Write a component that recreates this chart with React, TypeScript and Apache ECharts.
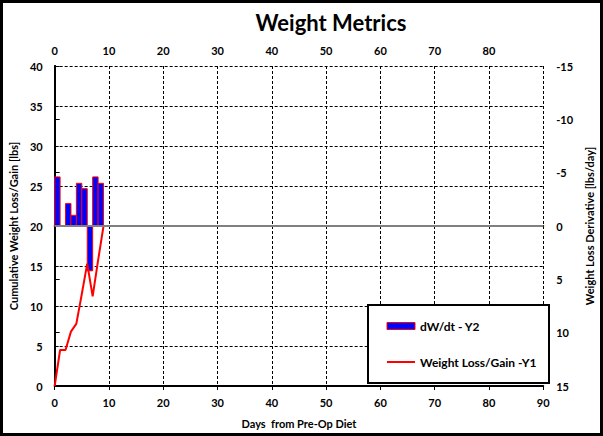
import React, { useEffect, useRef } from "react";
import * as echarts from "echarts";

const titleText = "Weight Metrics";
const xName = "Days  from Pre-Op Diet";
const y1Name = "Cumulative Weight Loss/Gain [lbs]";
const y2Name = "Weight Loss Derivative [lbs/day]";
const barName = "dW/dt - Y2";
const lineName = "Weight Loss/Gain -Y1";

const lineDays = [0, 1, 2, 3, 4, 5, 6, 7, 8, 9];
const lineValues = [0, 4.5, 4.5, 6.8, 7.8, 11.5, 15.3, 11.2, 15.7, 20.0];

const barDays = [0, 2, 3, 4, 5, 6, 7, 8];
const barValues = [-4.6, -2.1, -1.0, -4.0, -3.5, 4.2, -4.6, -4.0];

const y2Zero = 0;

export default function App() {
  const ref = useRef<HTMLDivElement>(null);
  useEffect(() => {
    if (!ref.current) return;
    const chart = echarts.init(ref.current, null, { renderer: "svg" });
    const font = "Lato";
    const lbl = { color: "#000", fontFamily: font, fontWeight: "bold" as const, fontSize: 11 };
    const nameStyle = { color: "#000", fontFamily: font, fontWeight: "bold" as const, fontSize: 11 };
    const axisLine = { show: true, lineStyle: { color: "#000", width: 2 } };
    const split = { show: true, lineStyle: { color: "#000", width: 1, type: [3, 2] as any } };

    chart.setOption({
      animation: false,
      backgroundColor: "#fff",
      textStyle: { fontFamily: font },
      title: {
        text: titleText,
        left: 326,
        top: 6,
        textAlign: "center",
        textStyle: { fontFamily: font, fontWeight: "bold", fontSize: 22, color: "#000" },
      },
      graphic: [
        {
          type: "rect",
          shape: { x: 1.5, y: 1.5, width: 600, height: 433 },
          style: { fill: "none", stroke: "#000", lineWidth: 3 },
          z: 0,
          silent: true,
        },
        {
          type: "rect",
          shape: { x: 368, y: 305, width: 181, height: 78 },
          style: { fill: "#fff", stroke: "#000", lineWidth: 2 },
          z: 5,
          silent: true,
        },
      ],
      legend: {
        orient: "vertical",
        left: 381,
        top: 315,
        itemGap: 24,
        itemWidth: 28,
        itemHeight: 7,
        z: 10,
        textStyle: { ...lbl, fontSize: 12 },
        data: [
          {
            name: barName,
            icon: "rect",
            itemStyle: { color: "#0000ff", borderColor: "#ff0000", borderWidth: 1 },
          },
          { name: lineName, itemStyle: { opacity: 0 } },
        ],
      },
      grid: { left: 53, right: 53, top: 66, bottom: 50, containLabel: false },
      xAxis: [
        {
          type: "value",
          position: "bottom",
          min: 0,
          max: 90,
          interval: 10,
          axisLine,
          axisTick: { show: true, inside: false, length: 4, lineStyle: { color: "#000", width: 1 } },
          axisLabel: { ...lbl, margin: 11 },
          splitLine: split,
          name: xName,
          nameLocation: "middle",
          nameGap: 32,
          nameTextStyle: nameStyle,
        },
        {
          type: "value",
          position: "top",
          min: 0,
          max: 90,
          interval: 10,
          axisLine,
          axisTick: { show: false },
          axisLabel: { ...lbl, margin: 10, showMaxLabel: false },
          splitLine: { show: false },
        },
      ],
      yAxis: [
        {
          type: "value",
          position: "left",
          min: 0,
          max: 40,
          interval: 5,
          axisLine,
          axisTick: { show: true, inside: true, length: 4, lineStyle: { color: "#000", width: 1 } },
          axisLabel: { ...lbl, margin: 12 },
          splitLine: split,
          name: y1Name,
          nameLocation: "middle",
          nameRotate: 90,
          nameGap: 30,
          nameTextStyle: nameStyle,
        },
        {
          type: "value",
          position: "right",
          min: -15,
          max: 15,
          interval: 5,
          inverse: true,
          axisLine,
          axisTick: { show: true, inside: false, length: 5, lineStyle: { color: "#000", width: 1 } },
          axisLabel: { ...lbl, margin: 13 },
          splitLine: { show: false },
          name: y2Name,
          nameLocation: "middle",
          nameRotate: 90,
          nameGap: 40,
          nameTextStyle: nameStyle,
        },
      ],
      series: [
        {
          type: "custom",
          name: barName,
          xAxisIndex: 0,
          yAxisIndex: 1,
          z: 3,
          itemStyle: { color: "#0000ff", borderColor: "#ff0000", borderWidth: 1 },
          encode: { x: 0, y: 1 },
          data: barDays.map((d, i) => [d, barValues[i]]),
          markLine: {
            silent: true,
            symbol: "none",
            label: { show: false },
            lineStyle: { color: "#808080", width: 2, type: "solid" },
            data: [{ yAxis: y2Zero }],
          },
          renderItem: (params: any, api: any) => {
            const d = api.value(0);
            const v = api.value(1);
            const p0 = api.coord([d, 0]);
            const p1 = api.coord([d + 1, v]);
            return {
              type: "rect",
              shape: {
                x: p0[0],
                y: Math.min(p0[1], p1[1]),
                width: p1[0] - p0[0],
                height: Math.abs(p1[1] - p0[1]),
              },
              style: { fill: "#0000ff", stroke: "#ff0000", lineWidth: 1 },
            };
          },
        },
        {
          type: "line",
          name: lineName,
          xAxisIndex: 0,
          yAxisIndex: 0,
          z: 4,
          symbol: "none",
          lineStyle: { color: "#ff0000", width: 2 },
          itemStyle: { color: "#ff0000" },
          data: lineDays.map((d, i) => [d, lineValues[i]]),
        },
      ],
    });
    return () => chart.dispose();
  }, []);
  return (
    <div
      ref={ref}
      style={{ position: "fixed", left: 0, top: 0, width: 603, height: 436 }}
    />
  );
}
